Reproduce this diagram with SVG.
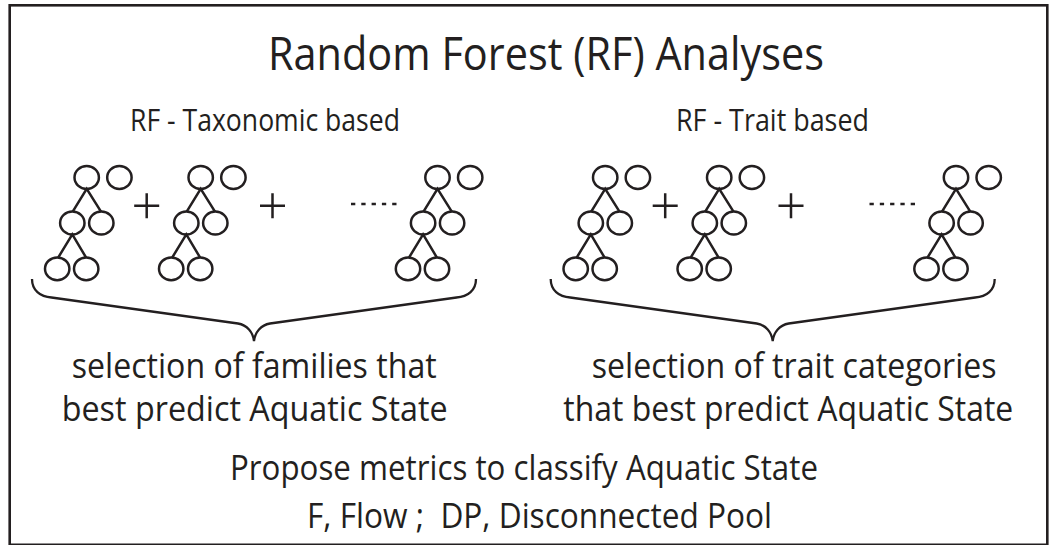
<svg xmlns="http://www.w3.org/2000/svg" width="1049" height="545" viewBox="0 0 1049 545">
<style>
text{font-family:"Open Sans","Noto Sans","Liberation Sans",sans-serif;fill:#231f20}
.t{font-size:45px}
.s{font-size:31px}
.b{font-size:34px}
.br{fill:none;stroke:#231f20;stroke-width:2.3}
</style>
<defs>
<g id="tree" fill="none" stroke="#231f20" stroke-width="2.5">
<ellipse cx="0" cy="0" rx="12.2" ry="11.4"/>
<ellipse cx="32.7" cy="0" rx="12.2" ry="11.4"/>
<ellipse cx="-14.4" cy="45.5" rx="12.2" ry="11.4"/>
<ellipse cx="14.6" cy="45.5" rx="12.2" ry="11.4"/>
<ellipse cx="-29.5" cy="91.3" rx="12.2" ry="11.4"/>
<ellipse cx="-0.5" cy="91.3" rx="12.2" ry="11.4"/>
<path d="M-14,34.1 L0,11.4 L14.3,34.1 M-28.4,79.9 L-14.4,56.9 L-0.7,79.9"/>
</g>
<path id="plus" d="M-12.5,0 H12.5 M0,-12.5 V12.5" fill="none" stroke="#231f20" stroke-width="2.5"/>
<path id="dots" d="M0,0 H45.7" fill="none" stroke="#231f20" stroke-width="2.5" stroke-dasharray="4.3 6"/>
</defs>
<rect id="frame" x="9.7" y="5.3" width="1037.6" height="539.5" fill="#fff" stroke="#231f20" stroke-width="2.6"/>
<g id="title"><text class="t" x="268" y="70" textLength="556" lengthAdjust="spacingAndGlyphs">Random Forest (RF) Analyses</text></g>
<g id="rf-taxonomic">
<text class="s" x="130" y="131" textLength="270" lengthAdjust="spacingAndGlyphs">RF - Taxonomic based</text>
<use href="#tree" x="86.7" y="177.5"/>
<use href="#plus" x="146.7" y="205.8"/>
<use href="#tree" x="200.7" y="177.5"/>
<use href="#plus" x="272.5" y="205.8"/>
<use href="#dots" x="351" y="204"/>
<use href="#tree" x="437.5" y="177.5"/>
</g>
<g id="rf-trait">
<text class="s" x="676" y="131" textLength="193" lengthAdjust="spacingAndGlyphs">RF - Trait based</text>
<use href="#tree" x="605.2" y="177.5"/>
<use href="#plus" x="665.2" y="205.8"/>
<use href="#tree" x="719.2" y="177.5"/>
<use href="#plus" x="791" y="205.8"/>
<use href="#dots" x="869.5" y="204"/>
<use href="#tree" x="956" y="177.5"/>
</g>
<g id="connectors">
<path class="br" d="M32,279 C32,290 40,297 51.5,297.5 L238,323.5 C247,325 253,332 254,341 C255,332 261,325 270,323.5 L456.5,297.5 C468,297 476,290 476,279"/>
<path class="br" d="M550.7,279 C550.7,290 558.7,297 570.2,297.5 L756.7,323.5 C765.7,325 771.7,332 772.7,341 C773.7,332 779.7,325 788.7,323.5 L975.2,297.5 C986.7,297 994.7,290 994.7,279"/>
</g>
<g id="families">
<text class="b" x="71.7" y="378" textLength="365" lengthAdjust="spacingAndGlyphs">selection of families that</text>
<text class="b" x="61.7" y="421" textLength="386" lengthAdjust="spacingAndGlyphs">best predict Aquatic State</text>
</g>
<g id="traits">
<text class="b" x="591.7" y="378" textLength="405" lengthAdjust="spacingAndGlyphs">selection of trait categories</text>
<text class="b" x="563.3" y="421" textLength="450" lengthAdjust="spacingAndGlyphs">that best predict Aquatic State</text>
</g>
<g id="metrics">
<text class="b" x="230" y="480" textLength="588" lengthAdjust="spacingAndGlyphs">Propose metrics to classify Aquatic State</text>
<text class="b" x="307" y="528" textLength="465" lengthAdjust="spacingAndGlyphs" xml:space="preserve">F, Flow ;  DP, Disconnected Pool</text>
</g>
</svg>
